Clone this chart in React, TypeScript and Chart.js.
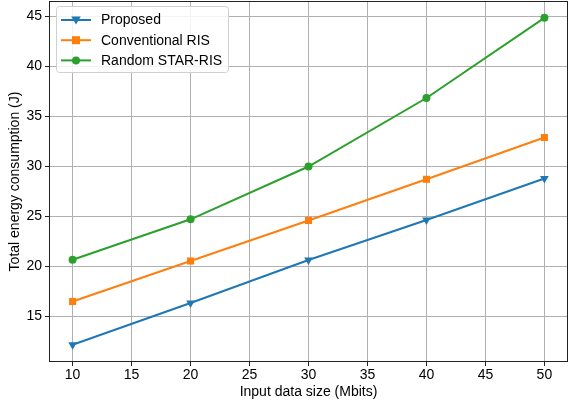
import React, { useEffect, useRef } from "react";
import { Chart, registerables } from "chart.js";

Chart.register(...registerables);

const xValues = [10, 20, 30, 40, 50];
const proposed = [12.17, 16.35, 20.65, 24.65, 28.8];
const conventional = [16.5, 20.55, 24.6, 28.72, 32.9];
const randomStar = [20.68, 24.72, 30.0, 36.85, 44.87];
const xTicks = [10, 15, 20, 25, 30, 35, 40, 45, 50];
const yTicks = [15, 20, 25, 30, 35, 40, 45];
const seriesLabels = ["Proposed", "Conventional RIS", "Random STAR-RIS"];

const FONT = "'Liberation Sans', Arial, Helvetica, sans-serif";
const FS = 14;

const frameAndLegend = {
  id: "frameAndLegend",
  afterDatasetsDraw(chart: any) {
    const { ctx, chartArea } = chart;
    ctx.save();
    // frame
    ctx.strokeStyle = "#222";
    ctx.lineWidth = 1;
    ctx.strokeRect(
      Math.round(chartArea.left) + 0.5,
      Math.round(chartArea.top) + 0.5,
      Math.round(chartArea.right - chartArea.left) - 1,
      Math.round(chartArea.bottom - chartArea.top) - 1
    );
    // legend
    const bx = chartArea.left + 7;
    const by = chartArea.top + 4.5;
    const bw = 172;
    const bh = 66;
    ctx.fillStyle = "rgba(255,255,255,0.85)";
    ctx.strokeStyle = "#d0d0d0";
    ctx.lineWidth = 1;
    ctx.beginPath();
    (ctx as any).roundRect(Math.round(bx) + 0.5, Math.round(by) + 0.5, bw, bh, 3);
    ctx.fill();
    ctx.stroke();
    chart.data.datasets.forEach((ds: any, i: number) => {
      const y = Math.round(by) + 14 + i * 20.2;
      const x0 = Math.round(bx) + 5;
      ctx.strokeStyle = ds.borderColor;
      ctx.lineWidth = 2;
      ctx.beginPath();
      ctx.moveTo(x0, y);
      ctx.lineTo(x0 + 30, y);
      ctx.stroke();
      ctx.fillStyle = ds.borderColor;
      const mx = x0 + 15;
      const style = ds.pointStyle;
      ctx.beginPath();
      if (style === "triangle") {
        const r = 4.8;
        ctx.moveTo(mx - r, y - r * 0.75);
        ctx.lineTo(mx + r, y - r * 0.75);
        ctx.lineTo(mx, y + r * 0.95);
        ctx.closePath();
      } else if (style === "rect") {
        ctx.rect(mx - 4, y - 4, 8, 8);
      } else {
        ctx.arc(mx, y, 4, 0, Math.PI * 2);
      }
      ctx.fill();
      ctx.fillStyle = "#000";
      ctx.font = `${FS}px ${FONT}`;
      ctx.textBaseline = "middle";
      ctx.textAlign = "left";
      ctx.fillText(ds.label, x0 + 40, y + 0.5);
    });
    ctx.restore();
  },
};

const zeroPad = (axis: any) => {
  axis.paddingTop = 0;
  axis.paddingBottom = 0;
  axis.paddingLeft = 0;
  axis.paddingRight = 0;
};

export default function App() {
  const ref = useRef<HTMLCanvasElement | null>(null);
  useEffect(() => {
    document.body.style.margin = "0";
    const canvas = ref.current!;
    const mk = (vals: number[]) => vals.map((v, i) => ({ x: xValues[i], y: v }));
    const chart = new Chart(canvas, {
      type: "line",
      data: {
        datasets: [
          {
            label: seriesLabels[0],
            data: mk(proposed),
            borderColor: "#1f77b4",
            backgroundColor: "#1f77b4",
            pointStyle: "triangle",
            rotation: 180,
            pointRadius: 5,
            borderWidth: 2,
            pointBorderWidth: 0,
          },
          {
            label: seriesLabels[1],
            data: mk(conventional),
            borderColor: "#ff7f0e",
            backgroundColor: "#ff7f0e",
            pointStyle: "rect",
            pointRadius: 5,
            borderWidth: 2,
            pointBorderWidth: 0,
          },
          {
            label: seriesLabels[2],
            data: mk(randomStar),
            borderColor: "#2ca02c",
            backgroundColor: "#2ca02c",
            pointStyle: "circle",
            pointRadius: 4,
            borderWidth: 2,
            pointBorderWidth: 0,
          },
        ] as any,
      },
      options: {
        animation: false,
        responsive: false,
        devicePixelRatio: 1,
        layout: { autoPadding: false, padding: { top: 1, right: 0, left: 0, bottom: 0 } },
        plugins: { legend: { display: false }, tooltip: { enabled: false } },
        scales: {
          x: {
            type: "linear",
            min: 8,
            max: 52,
            afterBuildTicks: (axis: any) => {
              axis.ticks = xTicks.map((v) => ({ value: v }));
            },
            afterFit: (axis: any) => {
              axis.height = 40;
              zeroPad(axis);
            },
            grid: { color: "#b0b0b0", lineWidth: 1, tickColor: "#222", tickLength: 4 },
            border: { display: false },
            ticks: { color: "#000", font: { family: FONT, size: FS }, padding: 1, maxRotation: 0 },
            title: {
              display: true,
              text: "Input data size (Mbits)",
              color: "#000",
              font: { family: FONT, size: FS },
              padding: { top: 0, bottom: 1 },
            },
          },
          y: {
            type: "linear",
            min: 10.45,
            max: 46.55,
            afterBuildTicks: (axis: any) => {
              axis.ticks = yTicks.map((v) => ({ value: v }));
            },
            afterFit: (axis: any) => {
              axis.width = 49;
              zeroPad(axis);
            },
            grid: { color: "#b0b0b0", lineWidth: 1, tickColor: "#222", tickLength: 4 },
            border: { display: false },
            ticks: { color: "#000", font: { family: FONT, size: FS }, padding: 3 },
            title: {
              display: true,
              text: "Total energy consumption (J)",
              color: "#000",
              font: { family: FONT, size: FS },
              padding: { top: 7, bottom: 0 },
            },
          },
        },
      } as any,
      plugins: [frameAndLegend],
    });
    return () => chart.destroy();
  }, []);
  return <canvas ref={ref} width={568} height={402} style={{ display: "block" }} />;
}
